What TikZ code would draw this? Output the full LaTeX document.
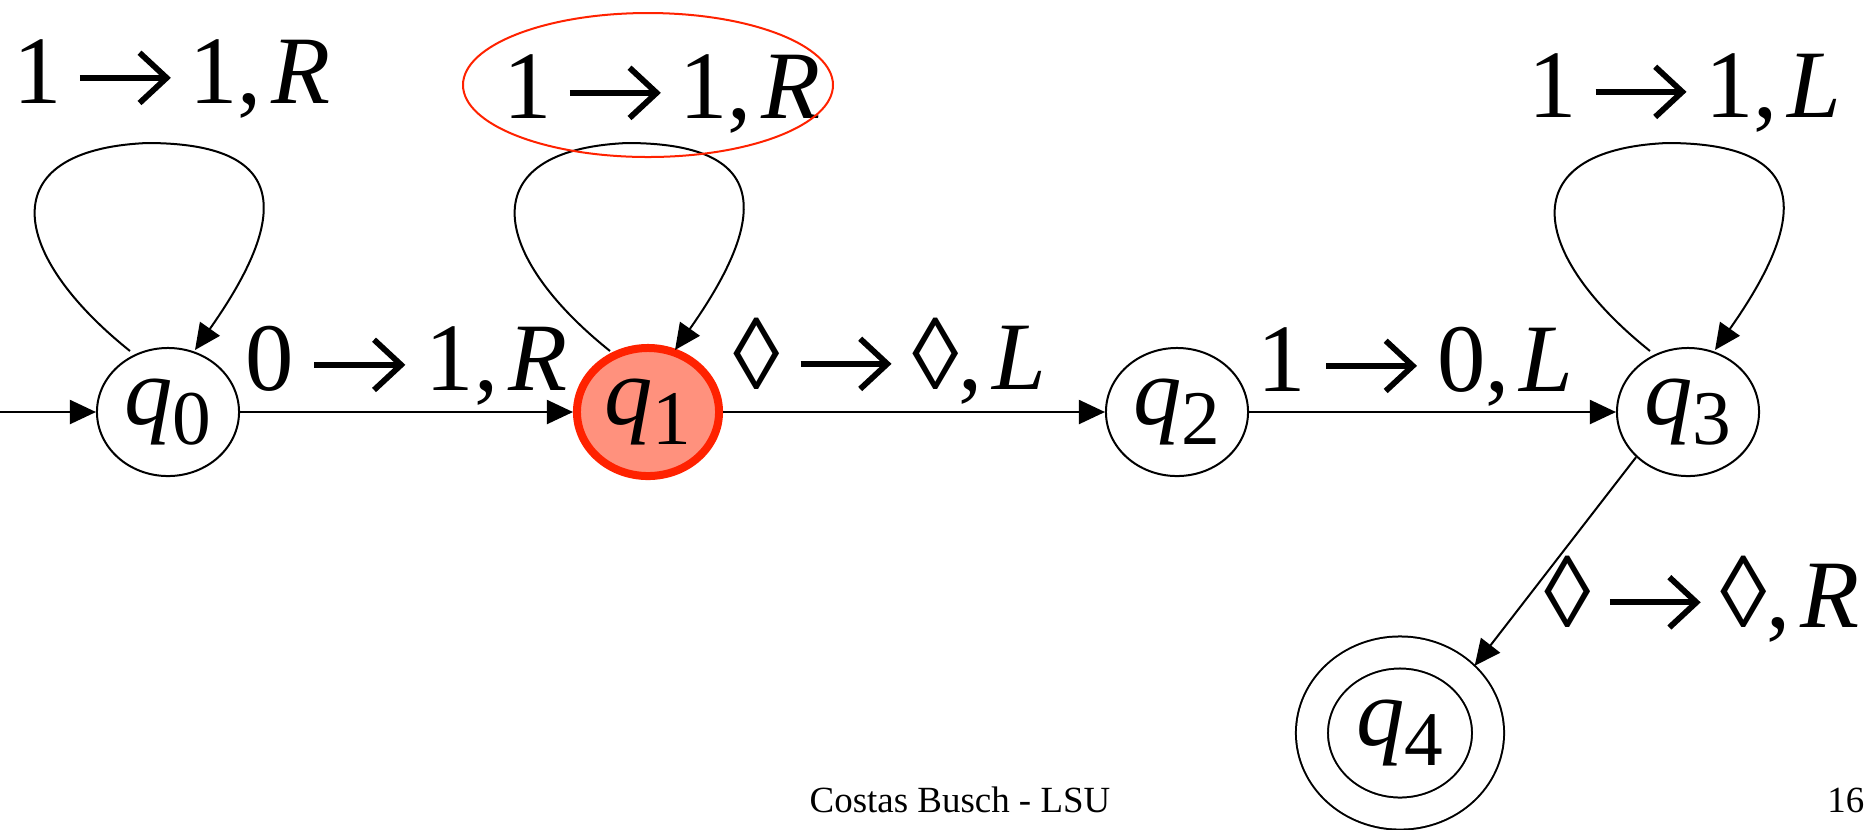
\documentclass[tikz,border=0pt]{standalone}
\usepackage{fontspec}
\setmainfont{Liberation Serif}
\usetikzlibrary{arrows.meta,shapes.geometric}

\definecolor{hired}{RGB}{255,34,0}
\definecolor{hifill}{RGB}{255,145,125}

% state name q_n and a transition label a -> b, M
\newcommand{\st}[1]{\textit{q}\raisebox{-0.2cm}{\fontsize{22}{24}\selectfont #1}}
\newcommand{\arr}{\tikz[x=1em, y=1em, baseline=0pt]
  \draw[line width=0.06em, -{Straight Barb[length=0.28em, width=0.52em]}] (0,0.26) -- (0.94,0.26);}
\newcommand{\blank}{\scalebox{0.97}[1.05]{◊}}
\newcommand{\tr}[4][0.16em]{#2\hspace{#1}\arr\hspace{#1}#3,\hspace{0.1em}\textit{#4}}

\begin{document}
\begin{tikzpicture}[x=0.01cm, y=-0.01cm,
  state/.style={ellipse, draw, line width=0.02cm, minimum width=1.42cm,
    minimum height=1.28cm, inner sep=0pt, font=\fontsize{27.5}{30}\selectfont},
  current/.style={state, draw=hired, fill=hifill, line width=0.08cm},
  accept/.style={state, minimum width=1.76cm, minimum height=1.61cm,
    double, double distance=0.3cm, outer sep=0.16cm},
  edge/.style={line width=0.02cm, -{Triangle[length=0.26cm, width=0.24cm]}},
  lbl/.style={font=\fontsize{27.5}{30}\selectfont, inner sep=0pt, anchor=base},
  foot/.style={font=\fontsize{10.5}{12}\selectfont, inner sep=0pt}]
  \useasboundingbox (0,0) rectangle (1872,829);
  % The states, q1 is the current one.
  \node[state] (q0) at (168,412) {\st{0}};
  \node[current] (q1) at (648,412) {\st{1}};
  \node[state] (q2) at (1177,412) {\st{2}};
  \node[state] (q3) at (1688,412) {\st{3}};
  \node[accept] (q4) at (1400,733) {\st{4}};
  \coordinate (start) at (0,412);
  % Transitions along the row.
  \draw[edge] (start) -- (q0);
  \draw[edge] (q0) -- node[lbl, yshift=0.22cm] (t01) {\tr[0.18em]{0}{1}{R}} (q1);
  \draw[edge] (q1) -- node[lbl, xshift=-0.24cm, yshift=0.23cm] (t12) {\tr[0.18em]{\blank}{\blank}{L}} (q2);
  \draw[edge] (q2) -- node[lbl, xshift=-0.17cm, yshift=0.21cm] (t23) {\tr[0.18em]{1}{0}{L}} (q3);
  \draw[edge] (q3.221) -- node[lbl, anchor=base west, xshift=-0.12cm, yshift=-0.66cm] (t34) {\tr[0.17em]{\blank}{\blank}{R}} (q4.42);
  % Self loops.
  \foreach \s in {q0,q1,q3}
    \draw[edge] ([shift={(-38,-61)}]\s.center) .. controls +(-120,-96) and +(-157,7)
      .. ([shift={(-21,-269)}]\s.center) .. controls +(143,0) and +(95,-135)
      .. ([shift={(27,-62)}]\s.center);
  \node[lbl] (l00) at (172,103) {\tr{1}{1}{R}};
  \node[lbl] (l11) at (662,118) {\tr{1}{1}{R}};
  \node[lbl] (l33) at (1685,117) {\tr{1}{1}{L}};
  \draw[hired, line width=0.02cm] (648,85) ellipse (185 and 72);
  % Footer.
  \node[foot, anchor=base] (src) at (960,812) {Costas Busch - LSU};
  \node[foot, anchor=base east] (page) at (1865,812) {16};
\end{tikzpicture}
\end{document}
